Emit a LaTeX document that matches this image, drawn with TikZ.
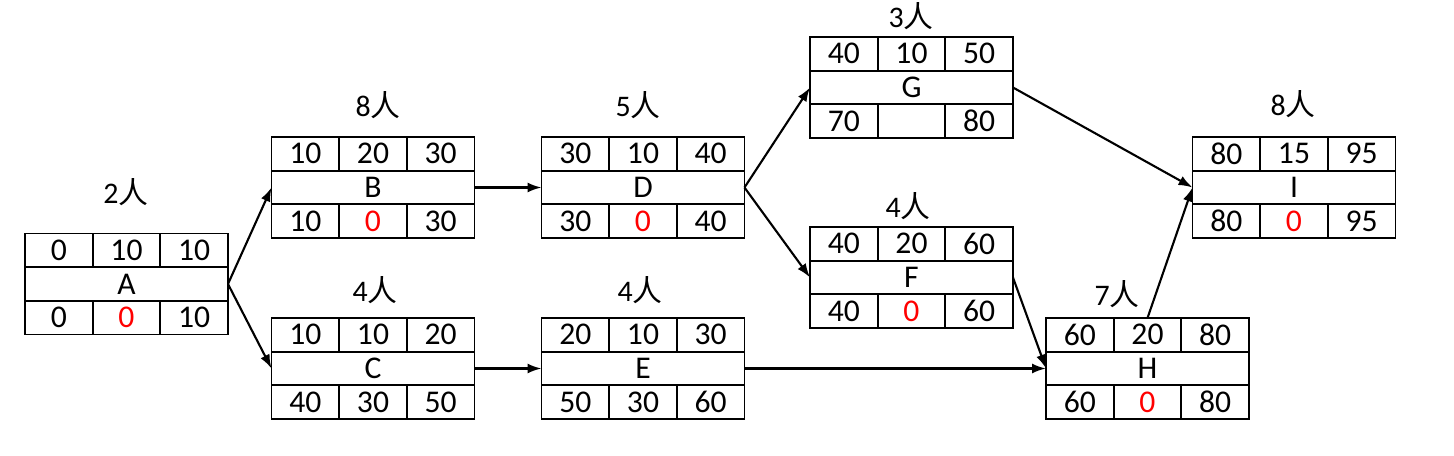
\documentclass[tikz,border=0pt]{standalone}
\usepackage{fontspec}
\setmainfont{Carlito}
\newfontfamily\cjk{Noto Sans CJK SC}
\usetikzlibrary{arrows.meta,positioning}

\newcommand{\crit}{\textcolor{red}{0}}
% one activity: name, centre, top row, letter, bottom row, label position, people
\newcommand{\actbox}[7]{%
  \node[mid] (#1) at (#2) {#4};
  \foreach \v [count=\i] in {#3}
    \node[cell,anchor=south west] (#1-t\i) at ([xshift={(\i-1)*1.3533cm}]#1.north west) {\v};
  \foreach \v [count=\i] in {#5}
    \node[cell,anchor=north west] (#1-b\i) at ([xshift={(\i-1)*1.3533cm}]#1.south west) {\v};
  \node[people] (#1-p) at (#6) {#7{\cjk 人}};
}

\begin{document}
\begin{tikzpicture}[x=0.02cm,y=-0.02cm,
    cell/.style={draw,line width=1.1pt,outer sep=0pt,inner sep=0pt,minimum width=1.3533cm,minimum height=0.6733cm,font=\fontsize{18pt}{21pt}\selectfont},
    mid/.style={cell,minimum width=4.06cm},
    people/.style={font=\fontsize{17pt}{20pt}\selectfont,inner sep=1pt},
    link/.style={-{Latex[length=2.8mm,width=2mm]},line width=1.2pt}
]
\useasboundingbox (0,0) rectangle (1454,456);

\actbox{A}{126.5,284}{0,10,10}{A}{0,\crit,10}{126,192}{2}
\actbox{B}{373,187.5}{10,20,30}{B}{10,\crit,30}{378,105}{8}
\actbox{C}{373,368.5}{10,10,20}{C}{40,30,50}{375,290}{4}
\actbox{D}{643,187.5}{30,10,40}{D}{30,\crit,40}{638,105}{5}
\actbox{E}{643,368.5}{20,10,30}{E}{50,30,60}{640,290}{4}
\actbox{G}{911.5,87.5}{40,10,50}{G}{70,{},80}{911,16}{3}
\actbox{F}{911.5,277.5}{40,20,60}{F}{40,\crit,60}{908,206}{4}
\actbox{H}{1147.5,368.5}{60,20,80}{H}{60,\crit,80}{1117,294}{7}
\actbox{I}{1294,187.5}{80,15,95}{I}{80,\crit,95}{1293,104}{8}

\draw[link] (A.east) -- (B.west);
\draw[link] (A.east) -- (C.west);
\draw[link] (B.east) -- (D.west);
\draw[link] (C.east) -- (E.west);
\draw[link] (D.east) -- (G.west);
\draw[link] (D.east) -- (F.west);
\draw[link] (E.east) -- (H.west);
\draw[link] (F.east) -- (H.west);
\draw[link] (G.east) -- (I.west);
\draw[link] (H-t2.north) -- (I.west);
\end{tikzpicture}
\end{document}
